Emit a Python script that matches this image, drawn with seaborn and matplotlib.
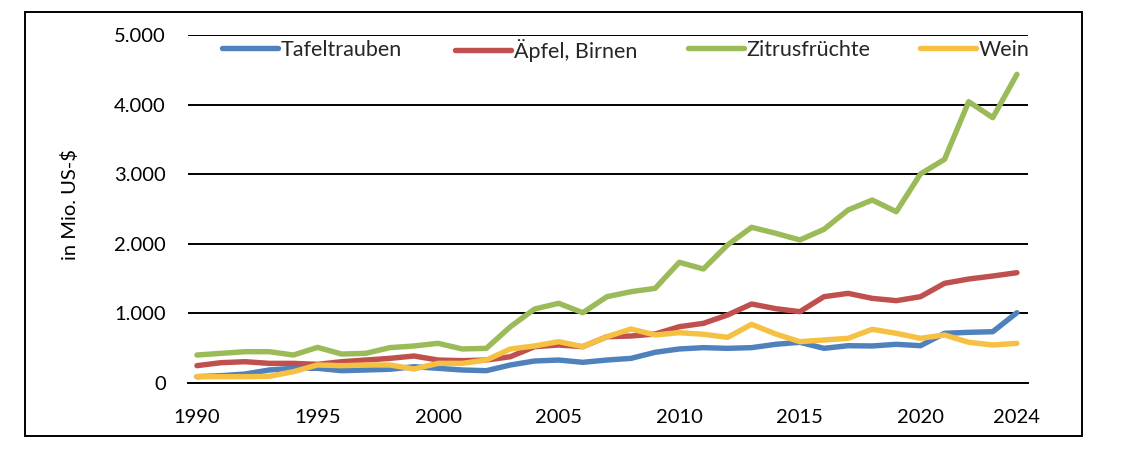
import pandas as pd
import matplotlib.pyplot as plt
import numpy as np
import seaborn as sns
from matplotlib.patches import Rectangle
from matplotlib.lines import Line2D
from matplotlib.ticker import FuncFormatter

years = list(range(1990, 2025))

tafeltrauben = [91, 105, 129, 187, 211, 211, 177, 187, 197, 234, 211, 187, 177, 259, 316, 330, 297, 330,
                354, 441, 489, 508, 498, 508, 556, 585, 498, 536, 532, 556, 536, 714, 728, 737, 1010]
aepfel = [249, 292, 306, 282, 282, 268, 306, 330, 354, 388, 330, 321, 330, 378, 522, 546, 522, 665,
          675, 704, 809, 857, 977, 1135, 1068, 1025, 1240, 1288, 1216, 1183, 1240, 1432, 1494, 1537, 1585]
zitrus = [402, 426, 450, 450, 402, 512, 416, 426, 508, 532, 570, 489, 498, 809, 1063, 1145, 1010, 1240,
          1312, 1360, 1734, 1638, 1983, 2237, 2151, 2055, 2208, 2486, 2629, 2461, 3003, 3214, 4042, 3812, 4435]
wein = [91, 91, 91, 96, 163, 259, 249, 259, 259, 201, 282, 282, 330, 489, 532, 594, 522, 665,
        776, 690, 723, 700, 656, 843, 704, 594, 618, 642, 771, 714, 642, 690, 585, 546, 570]

series = ['Tafeltrauben', 'Äpfel, Birnen', 'Zitrusfrüchte', 'Wein']
colors = ['#4F81BD', '#C0504D', '#9BBB59', '#F6C143']
xtick_years = [1990, 1995, 2000, 2005, 2010, 2015, 2020, 2024]

df = pd.DataFrame({
    'Jahr': years * 4,
    'Wert': tafeltrauben + aepfel + zitrus + wein,
    'Serie': sum([[s] * len(years) for s in series], []),
})

sns.set_style('white')
plt.rcParams['font.family'] = ['Lato', 'DejaVu Sans']

fig = plt.figure(figsize=(11.26, 4.5), dpi=100)
ax = fig.add_axes([188 / 1126, 1 - 383 / 450, (1028 - 188) / 1126, (383 - 35) / 450])

sns.lineplot(data=df, x='Jahr', y='Wert', hue='Serie', hue_order=series,
             palette=colors, linewidth=3.9, ax=ax, legend=False,
             solid_capstyle='round', solid_joinstyle='round')

ax.set_xlim(1989.63, 2024.46)
ax.set_ylim(0, 5000)
ax.set_yticks(np.arange(0, 5001, 1000))
ax.set_xticks(xtick_years)
ax.yaxis.set_major_formatter(FuncFormatter(lambda v, p: f'{int(v):,}'.replace(',', '.')))
ax.grid(axis='y', color='black', linewidth=1.4)
ax.grid(axis='x', visible=False)
ax.set_axisbelow(True)
for s in ['left', 'right', 'top']:
    ax.spines[s].set_visible(False)
ax.spines['bottom'].set_color('black')
ax.spines['bottom'].set_linewidth(1.4)
ax.tick_params(axis='y', length=0, pad=16, labelsize=14.5, labelcolor='black')
ax.tick_params(axis='x', length=0, pad=19, labelsize=14.5, labelcolor='black')
ax.set_xlabel('')
ax.set_ylabel('')

fig.text(70 / 1126, 1 - 205 / 450, 'in Mio. US-$', rotation=90, ha='center', va='center',
         fontsize=14.5, color='black')

# legend entries spaced evenly like the original
legend_x = [222, 455, 688, 920]
for name, col, lx in zip(series, colors, legend_x):
    h = Line2D([0], [0], color=col, linewidth=3.9, solid_capstyle='round')
    fig.legend(handles=[h], labels=[name], loc='center left',
               bbox_to_anchor=(lx / 1126, 1 - 50 / 450), frameon=False,
               handlelength=2.6, handletextpad=0.12, borderpad=0, borderaxespad=0,
               fontsize=15.5)

fig.patches.append(Rectangle((25 / 1126, 1 - 436 / 450), (1082 - 25) / 1126, (436 - 12) / 450,
                             transform=fig.transFigure, fill=False, edgecolor='black',
                             linewidth=1.4))

fig.savefig('out.png', dpi=100)
